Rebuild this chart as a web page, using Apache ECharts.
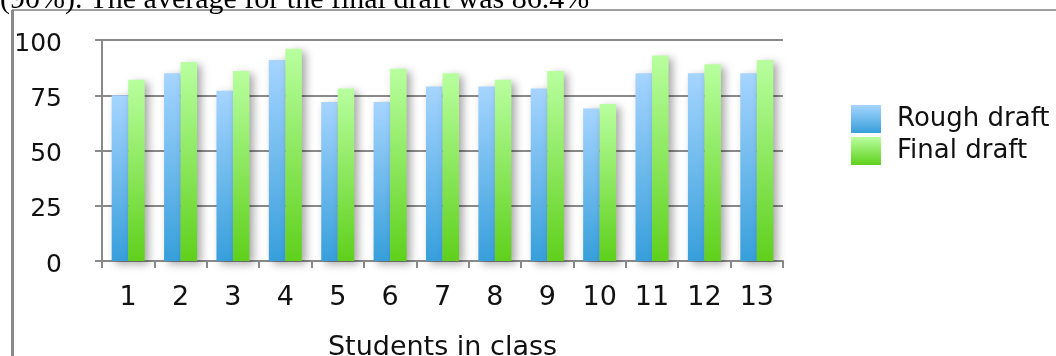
<!DOCTYPE html>
<html>
<head>
<meta charset="utf-8">
<script src="https://cdn.jsdelivr.net/npm/echarts@6/dist/echarts.min.js"></script>
<style>
  html, body { margin: 0; padding: 0; background: #fff; overflow: hidden; }
  #wrap { position: relative; width: 1056px; height: 356px; overflow: hidden; }
  #chart { position: absolute; left: 0; top: 0; width: 1056px; height: 356px; }
  #caption {
    position: absolute; left: 0; top: -17px; white-space: nowrap;
    font: 30px/30px "Liberation Serif", "Times New Roman", serif; color: #000;
  }
</style>
</head>
<body>
<div id="wrap">
  <div id="chart"></div>
  <div id="caption"></div>
</div>
<script>
// Students and their scores on each draft
const students = ['1', '2', '3', '4', '5', '6', '7', '8', '9', '10', '11', '12', '13'];
const roughDraft = [75, 85, 77, 91, 72, 72, 79, 79, 78, 69, 85, 85, 85];
const finalDraft = [82, 90, 86, 96, 78, 87, 85, 82, 86, 71, 93, 89, 91];
const seriesNames = ['Rough draft', 'Final draft'];
const axisTitle = 'Students in class';
const captionText = '(90%). The average for the final draft was 86.4%';

document.getElementById('caption').textContent = captionText;

const FONT = '"DejaVu Sans", Verdana, sans-serif';

function vGrad(top, bottom) {
  return new echarts.graphic.LinearGradient(0, 0, 0, 1, [
    { offset: 0, color: top },
    { offset: 1, color: bottom }
  ]);
}

const blue = vGrad('#a6d5ff', '#379fdb');
const green = vGrad('#b8ff9f', '#5fd01c');

const barShadow = {
  shadowColor: 'rgba(0,0,0,0.35)',
  shadowBlur: 8,
  shadowOffsetX: 4,
  shadowOffsetY: 3
};

const chart = echarts.init(document.getElementById('chart'), null, { renderer: 'canvas', width: 1056, height: 356 });

chart.setOption({
  animation: false,
  backgroundColor: '#fff',
  graphic: [
    {
      type: 'line', silent: true,
      shape: { x1: 12, y1: 10, x2: 1056, y2: 10 },
      style: { stroke: '#a0a0a0', lineWidth: 2 }
    },
    {
      type: 'line', silent: true,
      shape: { x1: 12.5, y1: 10, x2: 12.5, y2: 356 },
      style: { stroke: '#8a8a8a', lineWidth: 3 }
    }
  ],
  grid: { left: 102, right: 273, top: 40, bottom: 95, containLabel: false, outerBoundsMode: 'none' },
  legend: {
    orient: 'vertical',
    left: 846,
    top: 100,
    itemWidth: 30,
    itemHeight: 28,
    itemGap: 4,
    icon: 'rect',
    textStyle: { fontFamily: FONT, fontSize: 26, color: '#111', padding: [0, 0, 0, 11] },
    data: seriesNames
  },
  xAxis: {
    type: 'category',
    data: students,
    name: axisTitle,
    nameLocation: 'middle',
    nameGap: 73,
    nameTextStyle: { fontFamily: FONT, fontSize: 27, color: '#111' },
    axisLine: { show: true, lineStyle: { color: '#8a8a8a', width: 2 } },
    axisTick: { show: true, length: 7, lineStyle: { color: '#8a8a8a', width: 2 } },
    axisLabel: { fontFamily: FONT, fontSize: 27, color: '#111', margin: 23 }
  },
  yAxis: {
    type: 'value',
    min: 0,
    max: 100,
    interval: 25,
    axisLine: { show: true, lineStyle: { color: '#8a8a8a', width: 2 } },
    axisTick: { show: true, length: 7, lineStyle: { color: '#8a8a8a', width: 2 } },
    splitLine: { show: true, lineStyle: { color: '#8a8a8a', width: 2 } },
    axisLabel: {
      margin: 40,
      formatter: '{v|{value}}',
      rich: { v: { fontFamily: FONT, fontSize: 25, color: '#111', padding: [8, 0, 0, 0] } }
    }
  },
  series: [
    {
      name: seriesNames[0],
      type: 'bar',
      data: roughDraft,
      barWidth: 16.5,
      barGap: '0%',
      itemStyle: Object.assign({ color: blue }, barShadow)
    },
    {
      name: seriesNames[1],
      type: 'bar',
      data: finalDraft,
      barWidth: 16.5,
      barGap: '0%',
      itemStyle: Object.assign({ color: green }, barShadow)
    }
  ]
});
</script>
</body>
</html>
